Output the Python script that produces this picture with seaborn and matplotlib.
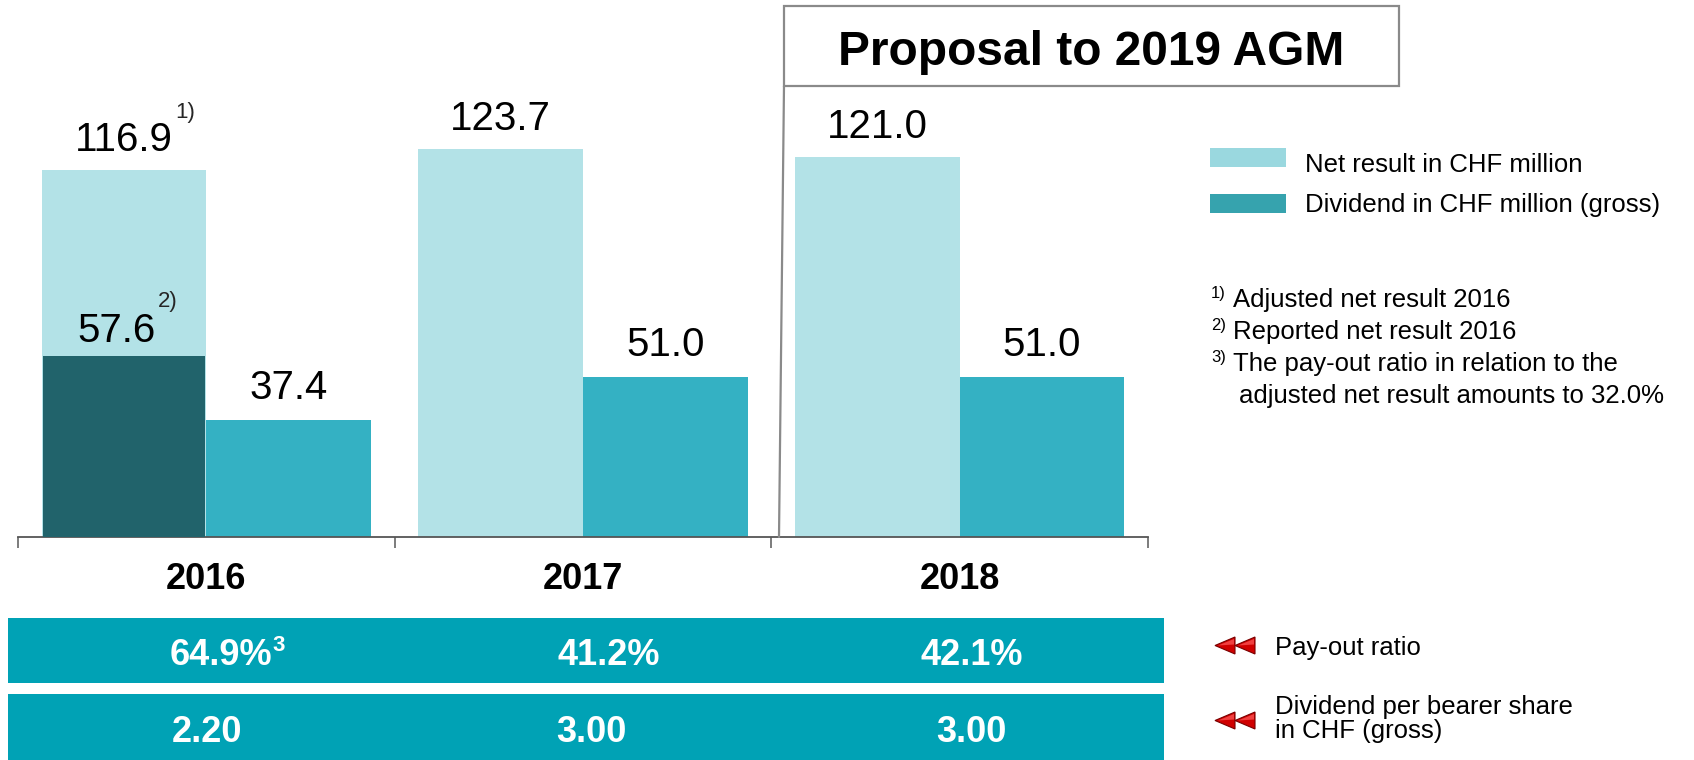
import numpy as np
import pandas as pd
import seaborn as sns
import matplotlib
matplotlib.use("Agg")
import matplotlib.pyplot as plt
from matplotlib.patches import Rectangle, Polygon
from matplotlib.lines import Line2D
from matplotlib.transforms import blended_transform_factory

# ---------------- data ----------------
years = ["2016", "2017", "2018"]
net_result = [116.9, 123.7, 121.0]          # CHF million (2016 adjusted)
dividend = [37.4, 51.0, 51.0]               # CHF million (gross)
reported_2016 = 57.6                        # reported net result 2016
payout_ratio = ["64.9%", "41.2%", "42.1%"]
dps = ["2.20", "3.00", "3.00"]
series_names = ["Net result in CHF million", "Dividend in CHF million (gross)"]
footnotes = [("1)", "Adjusted net result 2016"),
             ("2)", "Reported net result 2016"),
             ("3)", "The pay-out ratio in relation to the"),
             ("", "adjusted net result amounts to 32.0%")]
row_labels = [["Pay-out ratio"], ["Dividend per bearer share", "in CHF (gross)"]]
title_box = "Proposal to 2019 AGM"

# ---------------- style ----------------
C_LIGHT = "#B3E2E7"
C_DIV = "#34B1C3"
C_DARK = "#21636B"
C_BAND = "#00A2B5"
C_LEG_LIGHT = "#9AD8DF"
C_LEG_DARK = "#36A3AE"
C_RED = "#D00000"
band_dx = [[0.04, 0.069, 0.032], [0.003, 0.021, 0.032]]   # small horizontal nudges

sns.set_theme(style="white")
plt.rcParams["font.family"] = ["Liberation Sans", "DejaVu Sans"]

W, H = 1694, 760
fig = plt.figure(figsize=(W / 100, H / 100), dpi=100)
ax = fig.add_axes([18 / W, (H - 537) / H, 1130 / W, 537 / H])
ax.patch.set_alpha(0)

df = pd.DataFrame({
    "year": years * 2,
    "series": [series_names[0]] * 3 + [series_names[1]] * 3,
    "value": net_result + dividend,
})
sns.barplot(data=df, x="year", y="value", hue="series", hue_order=series_names,
            palette=[C_LIGHT, C_DIV], width=0.875, saturation=1, legend=False,
            linewidth=0, ax=ax, errorbar=None)

# reported 2016 net result overlay bar
p0 = ax.containers[0].patches[0]
ax.bar(p0.get_x() + p0.get_width() / 2, reported_2016, width=p0.get_width() * 0.985,
       color=C_DARK, linewidth=0, zorder=3)

ax.set_xlim(-0.5, 2.5)
ax.set_ylim(0, 171)
for s in ["top", "left", "right"]:
    ax.spines[s].set_visible(False)
ax.spines["bottom"].set_color("#555555")
ax.spines["bottom"].set_linewidth(1.3)
ax.set_yticks([])
ax.set_xticks([0, 1, 2])
ax.set_xticklabels([])
ax.set_xticks([-0.5, 0.5, 1.5, 2.5], minor=True)
ax.tick_params(axis="x", which="major", length=0, bottom=False)
ax.tick_params(axis="x", which="minor", bottom=True, length=8, width=1.2,
               color="#666666", direction="out")
ax.set_xlabel("")
ax.set_ylabel("")

# value labels
LBL = 29
texts_net = []
for p, v in zip(ax.containers[0].patches, net_result):
    t = ax.annotate(f"{v:.1f}", (p.get_x() + p.get_width() / 2, v), xytext=(0, 13.5),
                    textcoords="offset points", ha="center", va="baseline",
                    fontsize=LBL, color="black", zorder=5)
    texts_net.append(t)
for p, v in zip(ax.containers[1].patches, dividend):
    ax.annotate(f"{v:.1f}", (p.get_x() + p.get_width() / 2, v), xytext=(0, 15),
                textcoords="offset points", ha="center", va="baseline",
                fontsize=LBL, color="black", zorder=5)
t_rep = ax.annotate(f"{reported_2016:.1f}", (p0.get_x() + p0.get_width() / 2 - 0.02, reported_2016),
                    xytext=(0, 10), textcoords="offset points", ha="center", va="baseline",
                    fontsize=LBL, color="black", zorder=5)
ax.annotate("1)", xy=(1, 1), xycoords=texts_net[0], xytext=(2, 14), textcoords="offset points",
            ha="left", va="top", fontsize=16)
ax.annotate("2)", xy=(1, 1), xycoords=t_rep, xytext=(2, 15), textcoords="offset points",
            ha="left", va="top", fontsize=16)

# ---------------- overlay in pixel coords ----------------
ov = fig.add_axes([0, 0, 1, 1])
ov.set_xlim(0, W)
ov.set_ylim(H, 0)
ov.axis("off")
ov.set_zorder(ax.get_zorder() + 1)
bt = blended_transform_factory(ax.transData, ov.transData)

# category labels
for i, y in enumerate(years):
    ov.text(i, 589, y, transform=bt, ha="center", va="baseline",
            fontsize=26, fontweight="bold", color="black")

# proposal box with connector line
ov.add_patch(Rectangle((784, 6), 615, 80, facecolor="white", edgecolor="#8A8A8A", lw=1.6))
ov.add_line(Line2D([784, 779], [86, 537], color="#8A8A8A", lw=1.6))
ov.text(1091, 65, title_box, ha="center", va="baseline", fontsize=34.5,
        fontweight="bold", color="black")

# legend
for k, (name, col) in enumerate(zip(series_names, [C_LEG_LIGHT, C_LEG_DARK])):
    y0 = 148 + 46 * k
    ov.add_patch(Rectangle((1210, y0), 76, 19, facecolor=col, edgecolor="none"))
    ov.text(1305, 172 + 40 * k, name, ha="left", va="baseline", fontsize=18.5, color="black")

# footnotes
fy = [307, 339, 371, 403]
for (sup, txt), y in zip(footnotes, fy):
    if sup:
        ov.text(1211, y - 9, sup, ha="left", va="baseline", fontsize=12, color="black")
        ov.text(1233, y, txt, ha="left", va="baseline", fontsize=18.5, color="black")
    else:
        ov.text(1239, y, txt, ha="left", va="baseline", fontsize=18.5, color="black")

# bottom bands
band_rows = [(618, 65, payout_ratio, 665), (694, 66, dps, 742)]
band_texts = []
for r, (top, h, vals, base) in enumerate(band_rows):
    ov.add_patch(Rectangle((8, top), 1156, h, facecolor=C_BAND, edgecolor="none"))
    for i, v in enumerate(vals):
        t = ov.text(i + band_dx[r][i], base, v, transform=bt, ha="center", va="baseline",
                    fontsize=26, fontweight="bold", color="white")
        band_texts.append(t)
# superscript 3 on first pay-out ratio
ov.annotate("3", xy=(1, 1), xycoords=band_texts[0], xytext=(0, 2), textcoords="offset points",
            ha="left", va="top", fontsize=16, fontweight="bold", color="white")

# red double arrows + row labels
def left_tri(xl, yc, w=20, h=17):
    ov.add_patch(Polygon([(xl, yc), (xl + w, yc - h / 2), (xl + w, yc + h / 2)],
                         closed=True, facecolor=C_RED, edgecolor="#7A0000", lw=0.8))
    ov.add_patch(Polygon([(xl + 3, yc), (xl + w - 1, yc - h / 2 + 2), (xl + w - 1, yc - 1)],
                         closed=True, facecolor="#F04040", edgecolor="none"))

for yc in [645.5, 720.5]:
    left_tri(1215, yc)
    left_tri(1235, yc)

ov.text(1275, 655, row_labels[0][0], ha="left", va="baseline", fontsize=18.5, color="black")
ov.text(1275, 714, row_labels[1][0], ha="left", va="baseline", fontsize=18.5, color="black")
ov.text(1275, 738, row_labels[1][1], ha="left", va="baseline", fontsize=18.5, color="black")

fig.savefig("out.png", dpi=100, facecolor="white")
